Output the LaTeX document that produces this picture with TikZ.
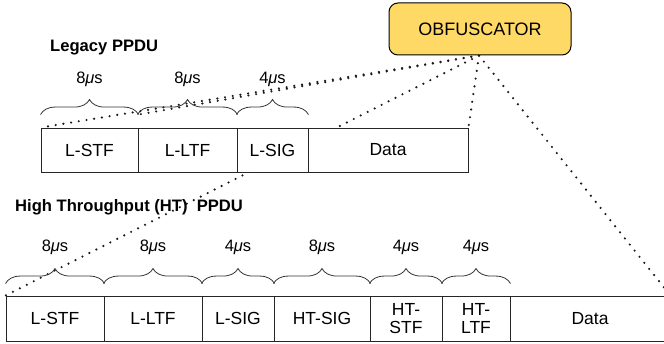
\documentclass[tikz,border=0pt]{standalone}
\usepackage{fontspec}
\setmainfont{Liberation Sans}
\usetikzlibrary{decorations.pathreplacing}
\pgfdeclarelayer{bg}
\pgfsetlayers{bg,main}
\definecolor{obf}{HTML}{FFD966}
\begin{document}
\begin{tikzpicture}[x=1pt,y=-1pt,
 cell/.style={draw=black!85, line width=0.9pt, fill=white, font=\fontsize{17.5}{18}\selectfont, inner sep=0pt, align=center},
 dur/.style={font=\fontsize{16.5}{18}\selectfont, inner sep=0pt},
 ttl/.style={font=\fontsize{16.6}{18}\selectfont\bfseries, anchor=west, inner sep=0pt},
 brc/.style={decorate, decoration={brace, amplitude=15pt}, draw=black!80, line width=0.8pt},
 dots/.style={line width=2.4pt, line cap=round, dash pattern=on 0pt off 7.8pt, black!90}]
\useasboundingbox (0,0) rectangle (664,344);

\node[draw=black, fill=obf, rounded corners=9pt, line width=1pt, minimum width=182pt, minimum height=52pt, font=\fontsize{18}{20}\selectfont] (obf) at (480,29) {OBFUSCATOR};

\node[ttl] (lt) at (50,48) {Legacy PPDU};
\node[ttl] (ht) at (15,207) {High Throughput (HT)\ \ PPDU};

% legacy row
\node[cell, minimum width=97pt, minimum height=44pt] (ls) at (89.5,150) {L-STF};
\node[cell, minimum width=99pt, minimum height=44pt] (ll) at (187.5,150) {L-LTF};
\node[cell, minimum width=71pt, minimum height=44pt] (lg) at (272.5,150) {L-SIG};
\node[cell, minimum width=160pt, minimum height=44pt] (ld) at (388,150) {Data};

% HT row
\node[cell, minimum width=98pt, minimum height=45pt] (hs) at (55,318.5) {L-STF};
\node[cell, minimum width=98pt, minimum height=45pt] (hl) at (153,318.5) {L-LTF};
\node[cell, minimum width=72pt, minimum height=45pt] (hg) at (238,318.5) {L-SIG};
\node[cell, minimum width=96pt, minimum height=45pt] (hh) at (322,318.5) {HT-SIG};
\node[cell, minimum width=72pt, minimum height=45pt] (hts) at (406,318.5) {HT-\\STF};
\node[cell, minimum width=68pt, minimum height=45pt] (htl) at (476,318.5) {HT-\\LTF};
\node[cell, minimum width=160pt, minimum height=45pt] (hd) at (590,318.5) {Data};

% braces legacy
\foreach \b/\t in {ls/8, ll/8, lg/4}{
  \draw[brc] ([yshift=13pt]\b.north west) -- ([yshift=13pt]\b.north east);
  \node[dur] (d\b) at ([yshift=48pt]\b.north) {\t\textit{μ}s};
}
% braces HT
\foreach \b/\t in {hs/8, hl/8, hg/4, hh/8, hts/4, htl/4}{
  \draw[brc] ([yshift=12pt]\b.north west) -- ([yshift=12pt]\b.north east);
  \node[dur] (d\b) at ([yshift=48pt]\b.north) {\t\textit{μ}s};
}

\coordinate (apex) at ([xshift=-1pt]obf.south);
\coordinate (j1) at ([yshift=13pt]ls.north east);
\begin{pgfonlayer}{bg}
\draw[dots] (apex) -- (ls.north west);
\draw[dots] (apex) -- (j1);
\draw[dots] (apex) -- (ld.north east);
\draw[dots] (apex) -- (hs.north west);
\draw[dots] (apex) -- (hd.north east);
\end{pgfonlayer}
\end{tikzpicture}
\end{document}
